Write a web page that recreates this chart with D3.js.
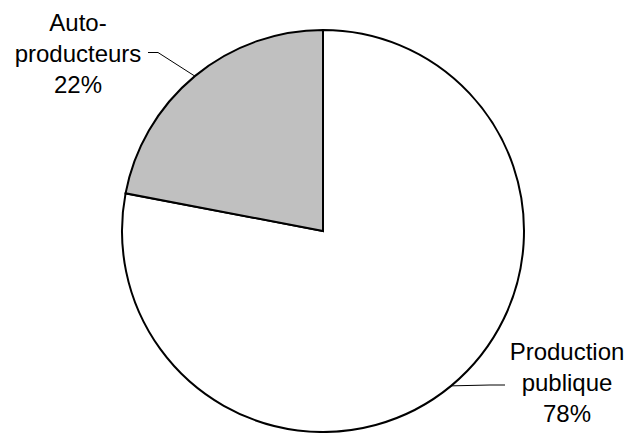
<!DOCTYPE html>
<html>
<head>
<meta charset="utf-8">
<script src="https://cdn.jsdelivr.net/npm/d3@7/dist/d3.min.js"></script>
<style>
  html, body { margin: 0; padding: 0; background: #fff; }
  svg { display: block; }
  text { font-family: "Liberation Sans", Arial, sans-serif; font-size: 24px; fill: #000; }
</style>
</head>
<body>
<svg id="chart" width="628" height="433"></svg>
<script>
// Share of electricity production
const categories = ["Production publique", "Auto-producteurs"];
const values = [78, 22];
const labelLines = [["Production", "publique", "78%"], ["Auto-", "producteurs", "22%"]];
const colors = ["#ffffff", "#c0c0c0"];

const width = 628, height = 433;
const cx = 323, cy = 231, radius = 201;
const lineHeight = 31;

const svg = d3.select("#chart");
const g = svg.append("g").attr("transform", `translate(${cx},${cy})`);

const pie = d3.pie().sort(null).value(d => d)
  .startAngle(0).endAngle(2 * Math.PI);
const arcs = pie(values);
const arc = d3.arc().innerRadius(0).outerRadius(radius);

g.selectAll("path.slice")
  .data(arcs)
  .join("path")
  .attr("class", "slice")
  .attr("d", arc)
  .attr("fill", (d, i) => colors[i])
  .attr("stroke", "#000")
  .attr("stroke-width", 2)
  .attr("stroke-linejoin", "miter");

// Label layout: text block centre and leader-line end relative to pie centre
const labelLayout = [
  { tx: 244, ty: 129, elbow: [167, 154], end: [182, 154] },   // Production publique
  { tx: -245, ty: -200, elbow: [-165, -178.5], end: [-175, -178.5] } // Auto-producteurs
];

arcs.forEach((d, i) => {
  const mid = (d.startAngle + d.endAngle) / 2;
  const px = Math.sin(mid) * radius;
  const py = -Math.cos(mid) * radius;
  const L = labelLayout[i];
  g.append("polyline")
    .attr("points", [[px, py], L.elbow, L.end].map(p => p.join(",")).join(" "))
    .attr("fill", "none")
    .attr("stroke", "#000")
    .attr("stroke-width", 1);

  const t = g.append("text")
    .attr("text-anchor", "middle")
    .attr("x", L.tx)
    .attr("y", L.ty);
  labelLines[i].forEach((line, k) => {
    t.append("tspan")
      .attr("x", L.tx)
      .attr("y", L.ty + k * lineHeight)
      .text(line);
  });
});
</script>
</body>
</html>
